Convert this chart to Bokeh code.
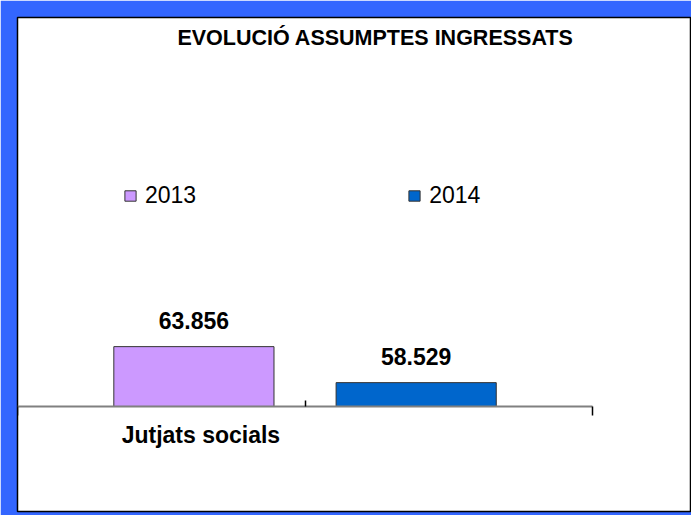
from bokeh.plotting import figure
from bokeh.models import (LinearAxis, FixedTicker, Legend, LegendItem, Range1d,
                          CustomJSTickFormatter, ColumnDataSource)
from bokeh.core.properties import value
from bokeh.embed import file_html
from bokeh.resources import INLINE

# ---- data ----
title_text = "EVOLUCIÓ ASSUMPTES INGRESSATS"
categories = ["Jutjats socials"]
years = ["2013", "2014"]
values = [63856, 58529]
colors = ["#CC99FF", "#0066CC"]
axis_min = 55000

FONT_NAME = "Liberation Sans"
FONT = value(FONT_NAME)

# ---- geometry (layout only) ----
W, H = 691, 515
frame_w, frame_h = 674, 494
x_start, x_end = 0.0, 2.344          # axis slots 0..2
y_start, y_end = 39460, 112560
upp = (y_end - y_start) / frame_h    # y units per pixel
xpp = (x_end - x_start) / frame_w    # x units per pixel

p = figure(width=W, height=H,
           x_range=Range1d(x_start, x_end), y_range=Range1d(y_start, y_end),
           x_axis_type=None, y_axis_type=None,
           toolbar_location=None, output_backend="svg",
           min_border_left=17, min_border_top=17, min_border_bottom=4, min_border_right=0,
           border_fill_color="#3366FF", background_fill_color="white",
           outline_line_color="black", outline_line_width=1.5)
p.grid.visible = False

group_center = 1.0
offset = 0.773
bar_w = 0.557
n = len(years)
xs = [group_center + (i - (n - 1) / 2) * offset for i in range(n)]

items = []
for i, (yr, v, c) in enumerate(zip(years, values, colors)):
    src = ColumnDataSource(dict(x=[xs[i]], top=[v], bottom=[axis_min]))
    r = p.vbar(x="x", top="top", bottom="bottom", width=bar_w, source=src,
               fill_color=c, line_color="#333333", line_width=1)
    items.append(LegendItem(label=yr, renderers=[r]))
    lbl = f"{v:,}".replace(",", ".")
    p.text(x=[xs[i]], y=[v + 26 * upp], text=[lbl], text_align="center",
           text_baseline="alphabetic", text_font=FONT, text_font_style="bold",
           text_font_size="23px", text_color="black")

# category label
p.text(x=[xs[0] + 7 * xpp], y=[axis_min - 29 * upp], text=[categories[0]],
       text_align="center", text_baseline="alphabetic", text_font=FONT,
       text_font_style="bold", text_font_size="23px", text_color="black")

# title
p.text(x=[358 * xpp], y=[y_end - 20 * upp], text=[title_text],
       text_align="center", text_baseline="alphabetic", text_font=FONT,
       text_font_style="bold", text_font_size="21.5px", text_color="black")

ax = LinearAxis(fixed_location=axis_min, bounds=(0, 2),
                ticker=FixedTicker(ticks=[0, 2], minor_ticks=[1]),
                formatter=CustomJSTickFormatter(code="return ''"),
                axis_line_color="#808080", axis_line_width=2,
                major_tick_line_color="black", major_tick_line_width=1.5,
                major_tick_in=0, major_tick_out=9,
                minor_tick_line_color="black", minor_tick_line_width=1.5,
                minor_tick_in=6, minor_tick_out=0)
p.add_layout(ax, "below")

legend = Legend(items=items, orientation="horizontal", location=(106, 302),
                padding=0, margin=0, spacing=211, glyph_width=14, glyph_height=13,
                label_standoff=8, label_text_font=FONT_NAME, label_text_font_size="23px",
                label_text_color="black",
                border_line_color=None, background_fill_alpha=0)
p.add_layout(legend)

open("out.html", "w").write(file_html(p, INLINE))
